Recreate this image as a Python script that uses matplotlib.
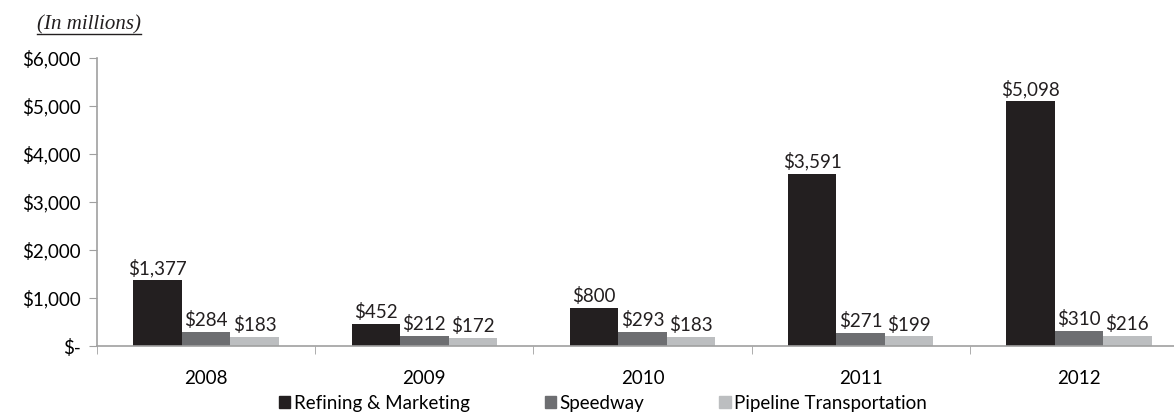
import numpy as np
import matplotlib.pyplot as plt
from matplotlib.patches import Patch

years = ["2008", "2009", "2010", "2011", "2012"]
refining = [1377, 452, 800, 3591, 5098]
speedway = [284, 212, 293, 271, 310]
pipeline = [183, 172, 183, 199, 216]
series_names = ["Refining & Marketing", "Speedway", "Pipeline Transportation"]
colors = ["#231f20", "#6d6e71", "#bcbec0"]

plt.rcParams['font.family'] = ['Lato', 'DejaVu Sans']
fs = 13.5

fig = plt.figure(figsize=(11.74, 4.15), dpi=100)
W, H = 1174, 415
# axes: left spine x=97, zero y=346, top y=58, category width ~218px
ax = fig.add_axes([97 / W, (H - 346) / H, 1091 / W, 288 / H])

x = np.arange(len(years))
w = 1 / 4.5
series = [refining, speedway, pipeline]
for i, (vals, c, name) in enumerate(zip(series, colors, series_names)):
    pos = x + (i - 1) * w
    ax.bar(pos, vals, width=w, color=c, label=name)
    for p, v in zip(pos, vals):
        ax.text(p, v + 60, "${:,}".format(v), ha="center", va="bottom",
                fontsize=fs, color="#231f20")

ax.set_xlim(-0.5, len(years) - 0.5)
ax.set_ylim(0, 6000)
yt = np.arange(0, 6001, 1000)
ax.set_yticks(yt)
ax.set_yticklabels(["$-"] + ["${:,}".format(v) for v in yt[1:]])
ax.set_xticks(x)
ax.set_xticklabels(years)
ax.set_xticks(np.arange(-0.5, len(years)), minor=True)
ax.tick_params(axis="x", which="major", length=0, pad=17, labelsize=fs)
ax.tick_params(axis="x", which="minor", length=6, color="#a0a0a0", direction="out")
ax.tick_params(axis="y", length=6, color="#a0a0a0", pad=6, labelsize=fs)
for s in ["top", "right"]:
    ax.spines[s].set_visible(False)
for s in ["left", "bottom"]:
    ax.spines[s].set_color("#a0a0a0")
    ax.spines[s].set_linewidth(1.2)

handles = [Patch(color=c) for c in colors]
fig.legend(handles, series_names, loc="center", bbox_to_anchor=(603 / W, (H - 403) / H),
           ncol=3, frameon=False, fontsize=fs, handlelength=0.6, handleheight=0.6,
           handletextpad=0.2, columnspacing=4.0)

t = fig.text(37 / W, (H - 25) / H, "(In millions)", family="Liberation Serif",
             style="italic", fontsize=15, va="center", ha="left", color="#231f20")
fig.canvas.draw()
bb = t.get_window_extent()
fig.add_artist(plt.Line2D([bb.x0 / W, bb.x1 / W], [(bb.y0 + 1) / H] * 2,
                          color="#231f20", lw=1, transform=fig.transFigure))

fig.savefig("out.png", dpi=100)
